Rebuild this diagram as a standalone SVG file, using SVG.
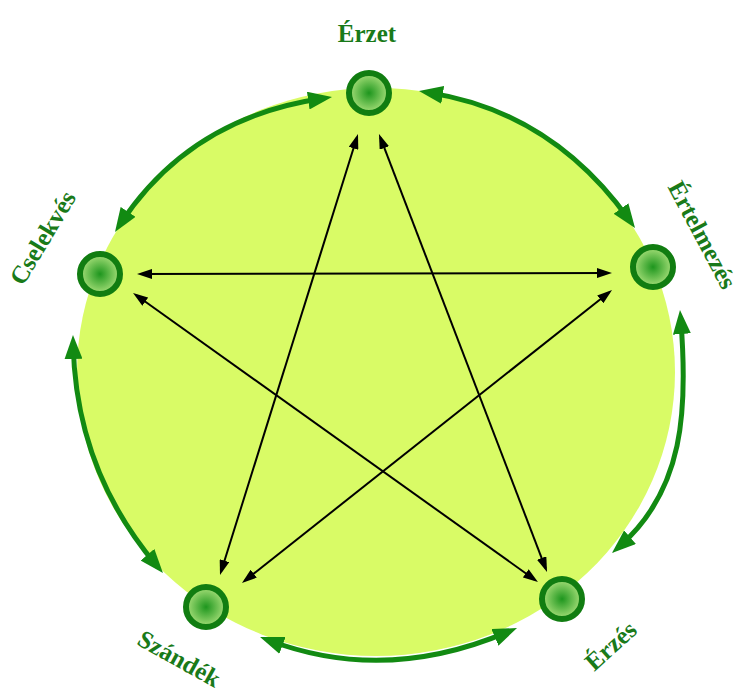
<svg xmlns="http://www.w3.org/2000/svg" width="742" height="691" viewBox="0 0 742 691">
<style>
.lbl{font-family:"Liberation Serif","Times New Roman",serif;font-weight:bold;font-size:25px;fill:#197a19;text-anchor:middle}
.arc{fill:none;stroke:#128a12;stroke-width:5;marker-start:url(#gh);marker-end:url(#gh)}
.ln{fill:none;stroke:#000;stroke-width:2;marker-start:url(#bh);marker-end:url(#bh)}
.node{fill:url(#ng);stroke:#117d11;stroke-width:6}
</style>
<defs>
<radialGradient id="ng" cx="0.5" cy="0.5" r="0.5">
<stop offset="0" stop-color="#1e961e"/>
<stop offset="1" stop-color="#a8e07a"/>
</radialGradient>
<marker id="gh" viewBox="0 0 24 18" markerWidth="24" markerHeight="18" refX="14" refY="9" orient="auto-start-reverse" markerUnits="userSpaceOnUse">
<path d="M0,0 L24,9 L0,18 z" fill="#128a12"/>
</marker>
<marker id="bh" viewBox="0 0 15 10" markerWidth="15" markerHeight="10" refX="11" refY="5" orient="auto-start-reverse" markerUnits="userSpaceOnUse">
<path d="M0,0 L15,5 L0,10 z" fill="#000"/>
</marker>
</defs>
<rect width="742" height="691" fill="#fff"/>
<ellipse id="background" cx="376" cy="372" rx="299" ry="284" fill="#d9fb66"/>
<g id="connectors">
<path class="arc" d="M428.9,92.6 Q552,112 629.2,219.9"/>
<path class="arc" d="M680.8,320 C688,410 684,490 619.5,546.4"/>
<path class="arc" d="M507.8,631.9 Q385,684 269.4,640.5"/>
<path class="arc" d="M156.5,565.4 Q76,470 73.2,345"/>
<path class="arc" d="M120.5,223.6 Q190,118 322.1,98.5"/>
<path class="ln" d="M356.8,137.8 L221.2,571.2"/>
<path class="ln" d="M380.4,137.7 L545.6,568.3"/>
<path class="ln" d="M141,274 L608,273"/>
<path class="ln" d="M136.3,295.3 L534.7,579.7"/>
<path class="ln" d="M608.9,292.5 L245.1,580.5"/>
</g>
<g id="erzet">
<circle class="node" cx="369" cy="93" r="20"/>
<text class="lbl" x="367" y="42">Érzet</text>
</g>
<g id="ertelmezes">
<circle class="node" cx="653" cy="267" r="20"/>
<text class="lbl" transform="translate(702,235) rotate(62)" x="0" y="8">Értelmezés</text>
</g>
<g id="erzes">
<circle class="node" cx="562" cy="599" r="20"/>
<text class="lbl" transform="translate(611,646) rotate(-42)" x="0" y="8">Érzés</text>
</g>
<g id="szandek">
<circle class="node" cx="206" cy="607" r="20"/>
<text class="lbl" transform="translate(179,659) rotate(29)" x="0" y="8">Szándék</text>
</g>
<g id="cselekves">
<circle class="node" cx="100" cy="274" r="20"/>
<text class="lbl" transform="translate(43,238) rotate(-59)" x="0" y="8">Cselekvés</text>
</g>
</svg>
